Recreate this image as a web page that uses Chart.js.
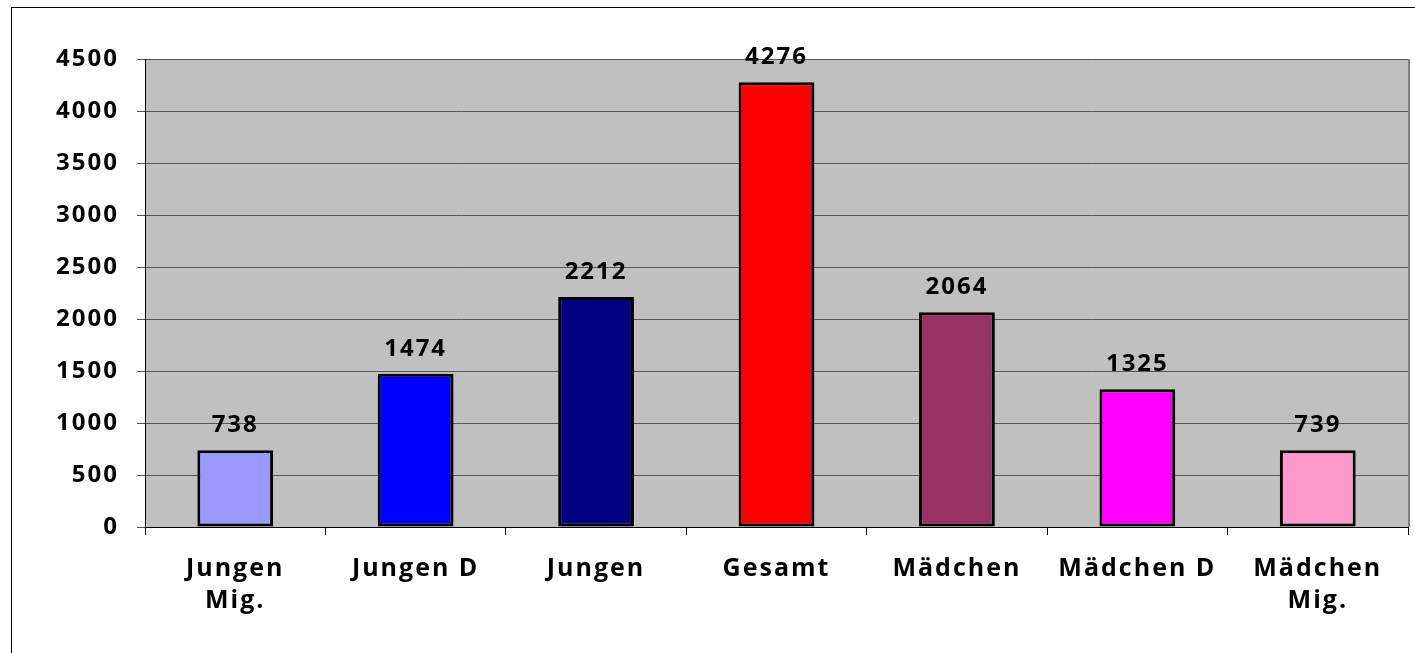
<!DOCTYPE html>
<html>
<head>
<meta charset="utf-8">
<script src="https://cdn.jsdelivr.net/npm/chart.js@4"></script>
<style>
  body { margin: 0; background: #fff; }
  #wrap { width: 1415px; height: 653px; }
</style>
</head>
<body>
<div id="wrap"><canvas id="myChart" width="1415" height="653"></canvas></div>
<script>
// data
const categories = [['Jungen', 'Mig.'], 'Jungen D', 'Jungen', 'Gesamt', 'Mädchen', 'Mädchen D', ['Mädchen', 'Mig.']];
const counts = [738, 1474, 2212, 4276, 2064, 1325, 739];
const barColors = ['#9999FF', '#0000FF', '#000080', '#FF0000', '#993366', '#FF00FF', '#FF99CC'];
const yTicks = [0, 500, 1000, 1500, 2000, 2500, 3000, 3500, 4000, 4500];

const FONT = '"Open Sans", Lato, sans-serif';

// gray plot area + outer frame
const backdrop = {
    id: 'backdrop',
    beforeDraw(chart) {
        const { ctx, chartArea: a } = chart;
        ctx.save();
        ctx.strokeStyle = '#000';
        ctx.lineWidth = 1;
        ctx.strokeRect(11.5, 7.5, 1430, 700);
        ctx.fillStyle = '#C0C0C0';
        ctx.fillRect(a.left, a.top, a.right - a.left, a.bottom - a.top);
        ctx.restore();
        ctx.letterSpacing = '2px';
    },
    afterDraw(chart) {
        const { ctx, chartArea: a } = chart;
        ctx.save();
        ctx.strokeStyle = '#808080';
        ctx.lineWidth = 2;
        ctx.beginPath();
        ctx.moveTo(a.right + 1, a.top);
        ctx.lineTo(a.right + 1, a.bottom);
        ctx.stroke();
        ctx.restore();
    }
};

// value labels above each bar
const valueLabels = {
    id: 'valueLabels',
    afterDatasetsDraw(chart) {
        const { ctx } = chart;
        const meta = chart.getDatasetMeta(0);
        ctx.save();
        ctx.fillStyle = '#000';
        ctx.font = 'bold 24px ' + FONT;
        ctx.textAlign = 'center';
        ctx.textBaseline = 'alphabetic';
        meta.data.forEach(function (bar, i) {
            ctx.fillText(String(counts[i]), bar.x, bar.y - 18);
        });
        ctx.restore();
    }
};

const ctx1 = document.getElementById('myChart').getContext('2d');
const myChart = new Chart(ctx1, {
    type: 'bar',
    data: {
        labels: categories,
        datasets: [{
            data: counts,
            backgroundColor: barColors,
            borderColor: '#000',
            borderWidth: 3,
            borderSkipped: false,
            barPercentage: 0.42,
            categoryPercentage: 1
        }]
    },
    options: {
        responsive: false,
        animation: false,
        devicePixelRatio: 1,
        layout: { padding: { top: 59, right: 7, bottom: 0, left: 0 } },
        plugins: {
            legend: { display: false },
            tooltip: { enabled: false }
        },
        scales: {
            x: {
                grid: { drawOnChartArea: false, drawTicks: true, tickLength: 8, color: '#000', offset: true },
                border: { color: '#000', width: 1 },
                ticks: {
                    color: '#000',
                    font: { family: FONT, size: 25, weight: 'bold', lineHeight: 1.27 },
                    padding: 18,
                    maxRotation: 0,
                    autoSkip: false
                },
                afterFit(scale) { scale.height = 126; }
            },
            y: {
                min: 0,
                max: 4500,
                afterBuildTicks(scale) { scale.ticks = yTicks.map(v => ({ value: v })); },
                grid: { color: '#555', tickLength: 8, tickColor: '#555' },
                border: { color: '#000', width: 1 },
                ticks: {
                    color: '#000',
                    font: { family: FONT, size: 24, weight: 'bold' },
                    padding: 18,
                    callback: v => String(v)
                },
                afterFit(scale) { scale.width = 145; }
            }
        }
    },
    plugins: [backdrop, valueLabels]
});
</script>
</body>
</html>
